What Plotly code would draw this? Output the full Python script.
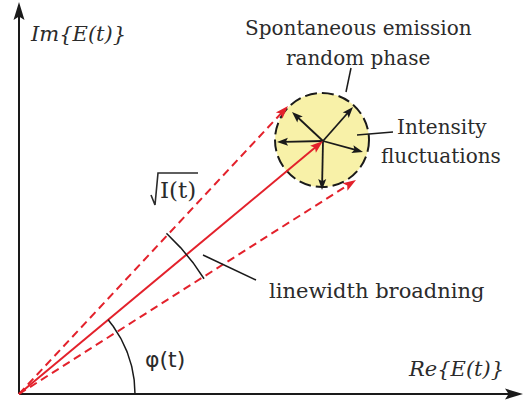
import numpy as np
import plotly.graph_objects as go

W, H = 525, 405

# ---- diagram data (pixel-like coordinates, y downwards) ----
origin = (19, 394)
x_axis_end = (523, 394)
y_axis_end = (19, 2)
phasor_tip = (323, 141)
dashed_tips = [(288, 106), (356, 180)]
circle_center = (322, 140)
circle_radius = 47
noise_tips = [(292, 112), (353, 107), (277, 142), (363, 152), (322, 190)]
phi_arc_radius = 116
lw_arc_radius = 218
leader_lines = [((203, 255), (256, 280)), ((351, 68), (346, 92)), ((357, 135), (393, 132))]
radical_x = [151, 155, 158, 198]
radical_y = [195, 205, 173, 173]

RED = "#e3212b"
BLACK = "#1a1a1a"
TEXT = "#2b2b2b"
YELLOW = "#f8f1a8"

shapes = []
traces = []


def line(xs, ys, color, width=2, dash="solid"):
    traces.append(go.Scatter(x=list(xs), y=list(ys), mode="lines",
                             line=dict(color=color, width=width, dash=dash),
                             hoverinfo="skip", showlegend=False))


def seg(p, q, color, width=2, dash="solid"):
    line([p[0], q[0]], [p[1], q[1]], color, width, dash)


def head(tail, tip, color, length=12, width=8):
    t = np.array(tail, float); p = np.array(tip, float)
    d = p - t; d /= np.linalg.norm(d)
    n = np.array([-d[1], d[0]])
    b = p - d * length
    a1 = b + n * width / 2; a2 = b - n * width / 2
    notch = p - d * length * 0.8
    path = f"M {p[0]},{p[1]} L {a1[0]},{a1[1]} L {notch[0]},{notch[1]} L {a2[0]},{a2[1]} Z"
    shapes.append(dict(type="path", path=path, fillcolor=color, line=dict(width=0), layer="above"))
    return tuple(p - d * length * 0.7)


def arc(center, r, a0, a1, color, width=1.5):
    th = np.linspace(np.radians(a0), np.radians(a1), 60)
    line(center[0] + r * np.cos(th), center[1] - r * np.sin(th), color, width)


def angle(p):
    return np.degrees(np.arctan2(origin[1] - p[1], p[0] - origin[0]))


# circle
cx, cy = circle_center
shapes.append(dict(type="circle", x0=cx - circle_radius, x1=cx + circle_radius,
                   y0=cy - circle_radius, y1=cy + circle_radius,
                   fillcolor=YELLOW, line=dict(color=BLACK, width=2, dash="12px,5px"), layer="below"))

# axes
e = head(origin, x_axis_end, BLACK, 18, 11)
seg(origin, e, BLACK, 2)
e = head(origin, y_axis_end, BLACK, 18, 11)
seg(origin, e, BLACK, 2)

# noise arrows
for t in noise_tips:
    e = head(phasor_tip, t, BLACK, 11, 8)
    seg(phasor_tip, e, BLACK, 1.8)

# red phasors
e = head(origin, phasor_tip, RED, 13, 9)
seg(origin, e, RED, 2)
for t in dashed_tips:
    e = head(origin, t, RED, 13, 9)
    seg(origin, e, RED, 2, "8px,5px")

# arcs
arc(origin, phi_arc_radius, 0, angle(phasor_tip), BLACK, 1.5)
arc(origin, lw_arc_radius, angle(dashed_tips[1]) - 0.5, angle(dashed_tips[0]) + 0.5, BLACK, 1.5)

for p, q in leader_lines:
    seg(p, q, BLACK, 1.5)

# sqrt sign
line(radical_x, radical_y, TEXT, 1.6)

serif = "DejaVu Serif"
annotations = [
    dict(x=28, y=34, text="<i>Im{E(t)}</i>", xanchor="left", font=dict(family=serif, size=21, color=TEXT)),
    dict(x=506, y=369, text="<i>Re{E(t)}</i>", xanchor="right", font=dict(family=serif, size=21, color=TEXT)),
    dict(x=358, y=28, text="Spontaneous emission", font=dict(family=serif, size=20, color=TEXT)),
    dict(x=358, y=58, text="random phase", font=dict(family=serif, size=20, color=TEXT)),
    dict(x=395, y=127, text="Intensity", xanchor="left", font=dict(family=serif, size=20, color=TEXT)),
    dict(x=379, y=156, text="fluctuations", xanchor="left", font=dict(family=serif, size=20, color=TEXT)),
    dict(x=267, y=291, text="linewidth broadning", xanchor="left", font=dict(family=serif, size=21, color=TEXT)),
    dict(x=178, y=190, text="I(t)", xanchor="center", font=dict(family=serif, size=23, color=TEXT)),
    dict(x=143, y=359, text="φ(t)", xanchor="left", font=dict(family="DejaVu Sans", size=22, color=TEXT)),
]
for a in annotations:
    a.update(xref="x", yref="y", showarrow=False, yanchor="middle")

fig = go.Figure(traces)
fig.update_layout(width=W, height=H, margin=dict(l=0, r=0, t=0, b=0),
                  paper_bgcolor="white", plot_bgcolor="white",
                  xaxis=dict(range=[0, W], visible=False, fixedrange=True),
                  yaxis=dict(range=[H, 0], visible=False, fixedrange=True),
                  shapes=shapes, annotations=annotations, showlegend=False)
fig.write_html("out.html")
